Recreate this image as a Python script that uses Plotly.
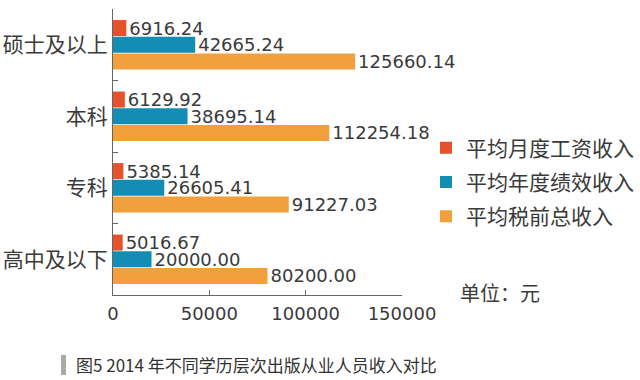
import plotly.graph_objects as go

categories = ["硕士及以上", "本科", "专科", "高中及以下"]
monthly = [6916.24, 6129.92, 5385.14, 5016.67]
perf = [42665.24, 38695.14, 26605.41, 20000.00]
total = [125660.14, 112254.18, 91227.03, 80200.00]
series_names = ["平均月度工资收入", "平均年度绩效收入", "平均税前总收入"]
colors = ["#E4512B", "#148DB5", "#F2A03D"]
x_ticks = [0, 50000, 100000, 150000]

NUM_FONT = "DejaVu Sans"
CJK_FONT = "Noto Sans CJK SC"
TXT = "#3a3a3a"

fig = go.Figure()
for i, (name, vals) in enumerate(zip(series_names, [monthly, perf, total])):
    fig.add_trace(go.Bar(
        y=categories, x=vals, name=name, orientation="h",
        marker=dict(color=colors[i], line=dict(width=0)),
        text=[f"{v:.2f}" for v in vals], textposition="outside",
        textfont=dict(family=NUM_FONT, size=18, color=TXT),
        constraintext="none", cliponaxis=False,
        legendgroup=str(i),
    ))

fig.update_layout(
    width=640, height=380,
    margin=dict(l=113, r=238, t=9, b=85, autoexpand=False),
    paper_bgcolor="white", plot_bgcolor="white",
    barmode="group", bargap=0.3, bargroupgap=0.04,
    showlegend=True,
    legend=dict(xref="container", yref="container", x=426/640, y=1-182/380,
                xanchor="left", yanchor="middle",
                traceorder="grouped", tracegroupgap=4,
                font=dict(family=CJK_FONT, size=21, color=TXT),
                bgcolor="rgba(0,0,0,0)"),
    xaxis=dict(range=[0, 150000], tickvals=x_ticks, ticktext=[str(t) for t in x_ticks],
               showline=True, linecolor="#666", linewidth=1, ticks="inside", ticklen=5,
               tickcolor="#666", showgrid=False, zeroline=False, automargin=False,
               tickfont=dict(family=NUM_FONT, size=18, color=TXT), ticklabelstandoff=2),
    yaxis=dict(autorange="reversed", showline=True, linecolor="#666", linewidth=1,
               ticks="inside", ticklen=5, tickcolor="#666", tickson="boundaries",
               showgrid=False, automargin=False,
               tickfont=dict(family=CJK_FONT, size=21, color=TXT)),
)

fig.add_annotation(text="单位：元", xref="paper", yref="paper", x=(458-113)/289, y=(295-292)/286,
                   xanchor="left", yanchor="middle", showarrow=False,
                   font=dict(family=CJK_FONT, size=20, color=TXT))
fig.add_annotation(text="图5 2014 年不同学历层次出版从业人员收入对比", xref="paper", yref="paper",
                   x=(74-113)/289, y=-(364-295)/286, xanchor="left", yanchor="middle", showarrow=False,
                   font=dict(family=CJK_FONT, size=17, color="#333"))
fig.add_shape(type="rect", xref="paper", yref="paper",
              x0=(61-113)/289, x1=(66-113)/289, y0=-(355-295)/286, y1=-(375-295)/286,
              fillcolor="#aaaaaa", line=dict(width=0))

fig.write_html("out.html", config={"displayModeBar": False},
               post_script="document.body.style.margin='0';")
